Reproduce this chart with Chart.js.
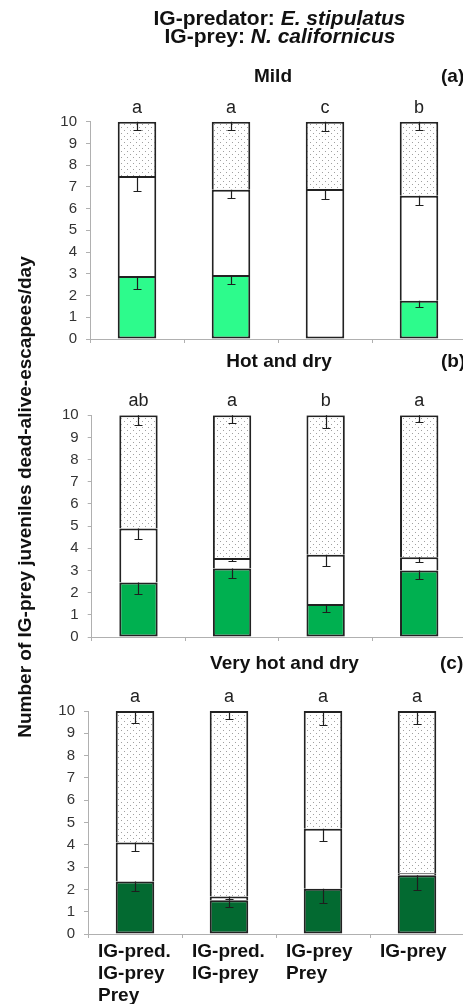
<!DOCTYPE html>
<html><head><meta charset="utf-8">
<script src="https://cdn.jsdelivr.net/npm/chart.js@4.4.1/dist/chart.umd.min.js"></script>
<style>
html,body{margin:0;padding:0;background:#fff;}
body{width:463px;height:1007px;overflow:hidden;position:relative;}
canvas{position:absolute;left:0;}
#ylab{position:absolute;left:-275px;top:486px;width:600px;height:22px;line-height:22px;text-align:center;
 font:bold 19px "Liberation Sans",Arial,sans-serif;color:#111;transform:rotate(-90deg);transform-origin:50% 50%;white-space:nowrap;}
</style></head><body>
<canvas id="ca" width="500" height="360" style="top:0px;width:500px;height:360px"></canvas>
<canvas id="cb" width="500" height="310" style="top:345px;width:500px;height:310px"></canvas>
<canvas id="cc" width="500" height="362" style="top:645px;width:500px;height:362px"></canvas>
<div id="ylab">Number of IG-prey juveniles dead-alive-escapees/day</div>
<script>
// ---------- data ----------
const categories = [["IG-pred.","IG-prey","Prey"],["IG-pred.","IG-prey"],["IG-prey","Prey"],["IG-prey"]];
const yTicks = [0,1,2,3,4,5,6,7,8,9,10];

const deadMild     = [2.90, 2.94, 0.00, 1.76];
const aliveMild    = [4.60, 3.93, 6.90, 4.83];
const escMild      = [2.50, 3.13, 3.10, 3.41];
const deadErrMild  = [0.60, 0.40, 0.00, 0.28];
const aliveErrMild = [0.68, 0.40, 0.45, 0.43];
const escErrMild   = [0.40, 0.38, 0.44, 0.38];
const lettersMild  = ["a","a","c","b"];

const deadHot      = [2.46, 3.09, 1.49, 3.00];
const aliveHot     = [2.43, 0.47, 2.22, 0.60];
const escHot       = [5.11, 6.44, 6.29, 6.40];
const deadErrHot   = [0.52, 0.41, 0.38, 0.39];
const aliveErrHot  = [0.48, 0.15, 0.53, 0.22];
const escErrHot    = [0.45, 0.36, 0.56, 0.32];
const lettersHot   = ["ab","a","b","a"];

const deadVHot     = [2.35, 1.51, 2.03, 2.64];
const aliveVHot    = [1.75, 0.17, 2.69, 0.08];
const escVHot      = [5.90, 8.32, 5.28, 7.28];
const deadErrVHot  = [0.40, 0.30, 0.65, 0.67];
const aliveErrVHot = [0.37, 0.12, 0.56, 0.00];
const escErrVHot   = [0.54, 0.34, 0.65, 0.57];
const lettersVHot  = ["a","a","a","a"];

// ---------- helpers ----------
const FF = '"Liberation Sans", Arial, sans-serif';

function dotPattern(ctx){
  const pc = document.createElement('canvas'); pc.width = 6; pc.height = 6;
  const g = pc.getContext('2d');
  g.fillStyle = '#ffffff'; g.fillRect(0,0,6,6);
  g.fillStyle = '#a0a0a0'; g.fillRect(1,1,1,1); g.fillRect(4,4,1,1);
  return ctx.createPattern(pc, 'repeat');
}

const errBars = {
  id: 'errBars',
  afterDatasetsDraw(chart, args, opts){
    const ctx = chart.ctx, ys = chart.scales.y;
    ctx.save();
    ctx.strokeStyle = '#1e1e1e'; ctx.lineWidth = 1.2;
    chart.data.datasets.forEach((ds, d) => {
      const meta = chart.getDatasetMeta(d);
      ds.data.forEach((v, i) => {
        const e = opts.errs[d][i];
        if (!e) return;
        let cum = 0;
        for (let k = 0; k <= d; k++) cum += chart.data.datasets[k].data[i];
        const x = Math.round(meta.data[i].x) + 0.5;
        const y1 = ys.getPixelForValue(cum), y2 = Math.round(ys.getPixelForValue(cum - e)) + 0.5;
        ctx.beginPath();
        ctx.moveTo(x, y1); ctx.lineTo(x, y2);
        ctx.moveTo(x - 4, y2); ctx.lineTo(x + 4, y2);
        ctx.stroke();
      });
    });
    ctx.restore();
  }
};

function drawRich(ctx, parts, cx, y){
  let total = 0;
  parts.forEach(p => { ctx.font = p.font; p.w = ctx.measureText(p.t).width; total += p.w; });
  let x = cx - total / 2;
  ctx.textAlign = 'left'; ctx.textBaseline = 'alphabetic';
  parts.forEach(p => { ctx.font = p.font; ctx.fillText(p.t, x, y); x += p.w; });
}

const annot = {
  id: 'annot',
  afterDraw(chart, args, opts){
    const ctx = chart.ctx;
    ctx.save();
    ctx.fillStyle = '#111';
    (opts.rich || []).forEach(r => drawRich(ctx, r.parts, r.x, r.y));
    (opts.texts || []).forEach(t => {
      ctx.font = t.font; ctx.textAlign = t.align; ctx.textBaseline = 'alphabetic';
      ctx.fillText(t.t, t.x, t.y);
    });
    const meta = chart.getDatasetMeta(chart.data.datasets.length - 1);
    ctx.font = '18px ' + FF; ctx.textAlign = 'center'; ctx.fillStyle = '#222';
    opts.letters.forEach((L, i) => ctx.fillText(L, meta.data[i].x, opts.letterY));
    ctx.restore();
  }
};

function makeChart(id, cfg){
  const canvas = document.getElementById(id);
  const ctx = canvas.getContext('2d');
  const pat = dotPattern(ctx);
  const deadArr = cfg.dead;
  return new Chart(ctx, {
    type: 'bar',
    data: {
      labels: categories,
      datasets: [
        { label: 'dead', data: cfg.dead, backgroundColor: cfg.green, borderColor: '#222', borderWidth: 2, borderSkipped: false },
        { label: 'alive', data: cfg.alive, backgroundColor: '#ffffff', borderColor: '#222', borderWidth: 2,
          borderSkipped: c => (deadArr[c.dataIndex] === 0 ? false : 'bottom') },
        { label: 'escapees', data: cfg.esc, backgroundColor: pat, borderColor: '#222', borderWidth: 2, borderSkipped: 'bottom' }
      ]
    },
    options: {
      responsive: false,
      animation: false,
      events: [],
      layout: { padding: cfg.pad },
      datasets: { bar: { categoryPercentage: 1.0, barPercentage: 0.41 } },
      plugins: {
        legend: { display: false },
        tooltip: { enabled: false },
        errBars: { errs: [cfg.deadErr, cfg.aliveErr, cfg.escErr] },
        annot: cfg.annot
      },
      scales: {
        x: {
          stacked: true,
          afterFit: s => { s.height = cfg.xh; },
          border: { display: true, color: '#b0b0b0', width: 1 },
          grid: { offset: true, drawOnChartArea: false, drawTicks: true, tickLength: 4, color: '#b0b0b0' },
          ticks: cfg.showX ? {
            display: true, align: 'start', labelOffset: -37, padding: 3, autoSkip: false, maxRotation: 0,
            color: '#111', font: { family: FF, size: 19, weight: 'bold', lineHeight: 22/19 }
          } : { display: false }
        },
        y: {
          stacked: true, min: 0, max: 10,
          afterFit: s => { s.width = cfg.yw; },
          afterBuildTicks: s => { s.ticks = yTicks.map(v => ({ value: v })); },
          border: { display: true, color: '#b0b0b0', width: 1 },
          grid: { drawOnChartArea: false, drawTicks: true, tickLength: 4, color: '#b0b0b0' },
          ticks: { padding: 9, color: '#333', font: { family: FF, size: 15 } }
        }
      }
    },
    plugins: [errBars, annot]
  });
}

makeChart('ca', {
  dead: deadMild, alive: aliveMild, esc: escMild,
  deadErr: deadErrMild, aliveErr: aliveErrMild, escErr: escErrMild,
  green: '#2dfb8c', yw: 90, xh: 10, showX: false,
  pad: { top: 121.7, right: 34, bottom: 11, left: 0 },
  annot: {
    rich: [
      { x: 279.5, y: 25, parts: [ { t: 'IG-predator: ', font: 'bold 21px ' + FF }, { t: 'E. stipulatus', font: 'italic bold 21px ' + FF } ] },
      { x: 280, y: 43, parts: [ { t: 'IG-prey: ', font: 'bold 21px ' + FF }, { t: 'N. californicus', font: 'italic bold 21px ' + FF } ] }
    ],
    texts: [
      { t: 'Mild', x: 273, y: 81.7, font: 'bold 19px ' + FF, align: 'center' },
      { t: '(a)', x: 441, y: 81.7, font: 'bold 19px ' + FF, align: 'left' }
    ],
    letters: lettersMild, letterY: 113
  }
});

makeChart('cb', {
  dead: deadHot, alive: aliveHot, esc: escHot,
  deadErr: deadErrHot, aliveErr: aliveErrHot, escErr: escErrHot,
  green: '#00b050', yw: 91.7, xh: 10, showX: false,
  pad: { top: 70.3, right: 34, bottom: 7.7, left: 0 },
  annot: {
    texts: [
      { t: 'Hot and dry', x: 279, y: 21.7, font: 'bold 19px ' + FF, align: 'center' },
      { t: '(b)', x: 441, y: 21.7, font: 'bold 19px ' + FF, align: 'left' }
    ],
    letters: lettersHot, letterY: 60.7
  }
});

makeChart('cc', {
  dead: deadVHot, alive: aliveVHot, esc: escVHot,
  deadErr: deadErrVHot, aliveErr: aliveErrVHot, escErr: escErrVHot,
  green: '#036a31', yw: 88, xh: 70, showX: true,
  pad: { top: 66, right: 36, bottom: 3, left: 0 },
  annot: {
    texts: [
      { t: 'Very hot and dry', x: 284.5, y: 24, font: 'bold 19px ' + FF, align: 'center' },
      { t: '(c)', x: 440, y: 24, font: 'bold 19px ' + FF, align: 'left' }
    ],
    letters: lettersVHot, letterY: 56.7
  }
});
</script>
</body></html>
